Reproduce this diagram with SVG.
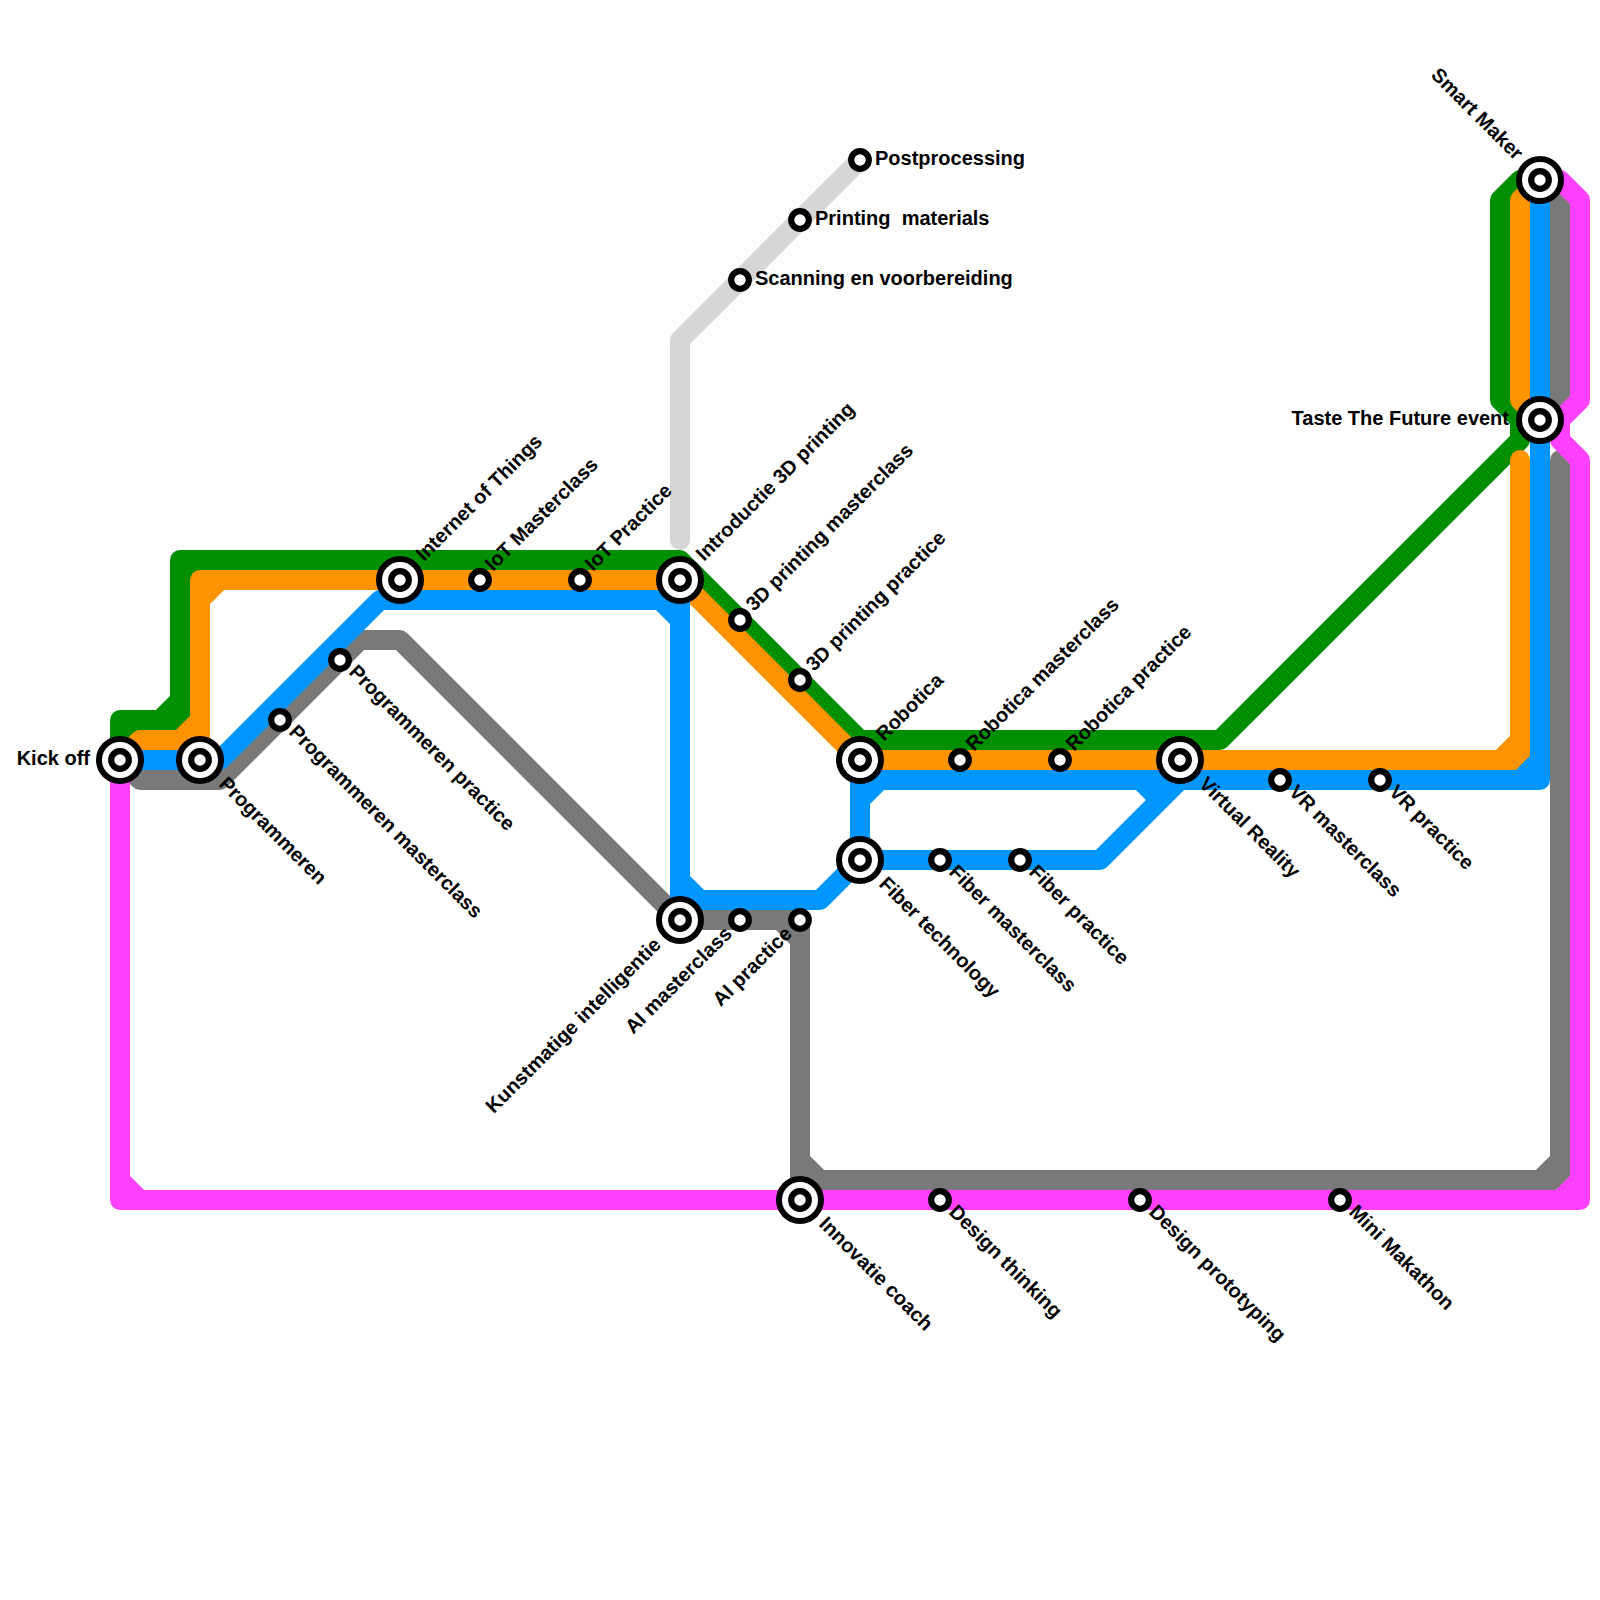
<svg xmlns="http://www.w3.org/2000/svg" width="1600" height="1600" viewBox="0 0 1600 1600">
<style>
.l{fill:none;stroke-width:20;stroke-linejoin:round;stroke-linecap:round}
.o{fill:#fff;stroke:#000;stroke-width:6}
.s{fill:#fff;stroke:#000;stroke-width:6.2}
text{font-family:"Liberation Sans",Arial,sans-serif;font-weight:700;font-size:20px;fill:#000;white-space:pre}
.e{text-anchor:end}
</style>
<defs>
<g id="ix"><circle r="21" class="o"/><circle r="8.8" class="s"/></g>
<circle id="st" r="8.8" class="s"/>
</defs>
<rect width="1600" height="1600" fill="#fff"/>
<g id="connectors">
<path class="l" stroke="#D6D6D6" d="M680 540V340L860 160"/>
<path class="l" stroke="#008F00" d="M120 760V720H160L180 700V560H680L860 740H1220L1520 440V420L1500 400V200L1520 180H1540M120 740V720H140ZM160 720H180V700ZM180 580V560H200Z"/>
<path class="l" stroke="#FF9300" d="M120 760L140 740H180L200 720V580H680L860 760H1500L1520 740V460M1540 420L1520 400V200L1540 180M180 740H200V720ZM200 600V580H220ZM1500 760H1520V740Z"/>
<path class="l" stroke="#797979" d="M120 760L140 780H220L360 640H400L680 920H800V1180M800 1200V1180H1540L1560 1160V460M1540 180L1560 200V400L1540 420M780 920H800V940ZM800 1160V1180H820ZM1540 1180H1560V1160Z"/>
<path class="l" stroke="#FF40FF" d="M120 760V1200H1580V460L1560 440V420L1580 400V200L1560 180H1540M120 1180V1200H140ZM1560 1200H1580V1180Z"/>
<path class="l" stroke="#0096FF" d="M120 760H220L380 600H660L680 620V880L700 900H820L860 860V760M860 860H1100L1180 780M860 780H1540V180M660 600H680V620ZM680 880V900H700ZM860 800V780H880ZM1140 780H1180L1160 800ZM1520 780H1540V760Z"/>
</g>
<g id="n-kickoff"><use href="#ix" x="120" y="760"/><text class="e" x="90" y="765">Kick off</text></g>
<g id="n-programmeren"><use href="#ix" x="200" y="760"/><text transform="translate(218 785) rotate(45)">Programmeren</text></g>
<g id="n-prog-master"><use href="#st" x="280" y="720"/><text transform="translate(288 733) rotate(45)">Programmeren masterclass</text></g>
<g id="n-prog-practice"><use href="#st" x="340" y="660"/><text transform="translate(348 673) rotate(45)">Programmeren practice</text></g>
<g id="n-iot"><use href="#ix" x="400" y="580"/><text transform="translate(424 562) rotate(-45)">Internet of Things</text></g>
<g id="n-iot-master"><use href="#st" x="480" y="580"/><text transform="translate(493 572) rotate(-45)">IoT Masterclass</text></g>
<g id="n-iot-practice"><use href="#st" x="580" y="580"/><text transform="translate(593 572) rotate(-45)">IoT Practice</text></g>
<g id="n-intro3d"><use href="#ix" x="680" y="580"/><text transform="translate(704 562) rotate(-45)">Introductie 3D printing</text></g>
<g id="n-3d-master"><use href="#st" x="740" y="620"/><text transform="translate(754 612) rotate(-45)">3D printing masterclass</text></g>
<g id="n-3d-practice"><use href="#st" x="800" y="680"/><text transform="translate(814 672) rotate(-45)">3D printing practice</text></g>
<g id="n-robotica"><use href="#ix" x="860" y="760"/><text transform="translate(884 742) rotate(-45)">Robotica</text></g>
<g id="n-rob-master"><use href="#st" x="960" y="760"/><text transform="translate(974 752) rotate(-45)">Robotica masterclass</text></g>
<g id="n-rob-practice"><use href="#st" x="1060" y="760"/><text transform="translate(1074 752) rotate(-45)">Robotica practice</text></g>
<g id="n-vr"><use href="#ix" x="1180" y="760"/><text transform="translate(1198 785) rotate(45)">Virtual Reality</text></g>
<g id="n-vr-master"><use href="#st" x="1280" y="780"/><text transform="translate(1288 793) rotate(45)">VR masterclass</text></g>
<g id="n-vr-practice"><use href="#st" x="1380" y="780"/><text transform="translate(1388 793) rotate(45)">VR practice</text></g>
<g id="n-fiber"><use href="#ix" x="860" y="860"/><text transform="translate(878 885) rotate(45)">Fiber technology</text></g>
<g id="n-fiber-master"><use href="#st" x="940" y="860"/><text transform="translate(948 873) rotate(45)">Fiber masterclass</text></g>
<g id="n-fiber-practice"><use href="#st" x="1020" y="860"/><text transform="translate(1028 873) rotate(45)">Fiber practice</text></g>
<g id="n-ai"><use href="#ix" x="680" y="920"/><text class="e" transform="translate(662 946) rotate(-45)">Kunstmatige intelligentie</text></g>
<g id="n-ai-master"><use href="#st" x="740" y="920"/><text class="e" transform="translate(733 935) rotate(-45)">AI masterclass</text></g>
<g id="n-ai-practice"><use href="#st" x="800" y="920"/><text class="e" transform="translate(793 935) rotate(-45)">AI practice</text></g>
<g id="n-innovatie"><use href="#ix" x="800" y="1200"/><text transform="translate(818 1225) rotate(45)">Innovatie coach</text></g>
<g id="n-design-thinking"><use href="#st" x="940" y="1200"/><text transform="translate(948 1213) rotate(45)">Design thinking</text></g>
<g id="n-design-proto"><use href="#st" x="1140" y="1200"/><text transform="translate(1148 1213) rotate(45)">Design prototyping</text></g>
<g id="n-mini"><use href="#st" x="1340" y="1200"/><text transform="translate(1348 1213) rotate(45)">Mini Makathon</text></g>
<g id="n-post"><use href="#st" x="860" y="160"/><text x="875" y="165">Postprocessing</text></g>
<g id="n-materials"><use href="#st" x="800" y="220"/><text x="815" y="225">Printing  materials</text></g>
<g id="n-scanning"><use href="#st" x="740" y="280"/><text x="755" y="285">Scanning en voorbereiding</text></g>
<g id="n-smart"><use href="#ix" x="1540" y="180"/><text class="e" transform="translate(1515 161) rotate(45)">Smart Maker</text></g>
<g id="n-taste"><use href="#ix" x="1540" y="420"/><text class="e" x="1509" y="425">Taste The Future event</text></g>
</svg>
